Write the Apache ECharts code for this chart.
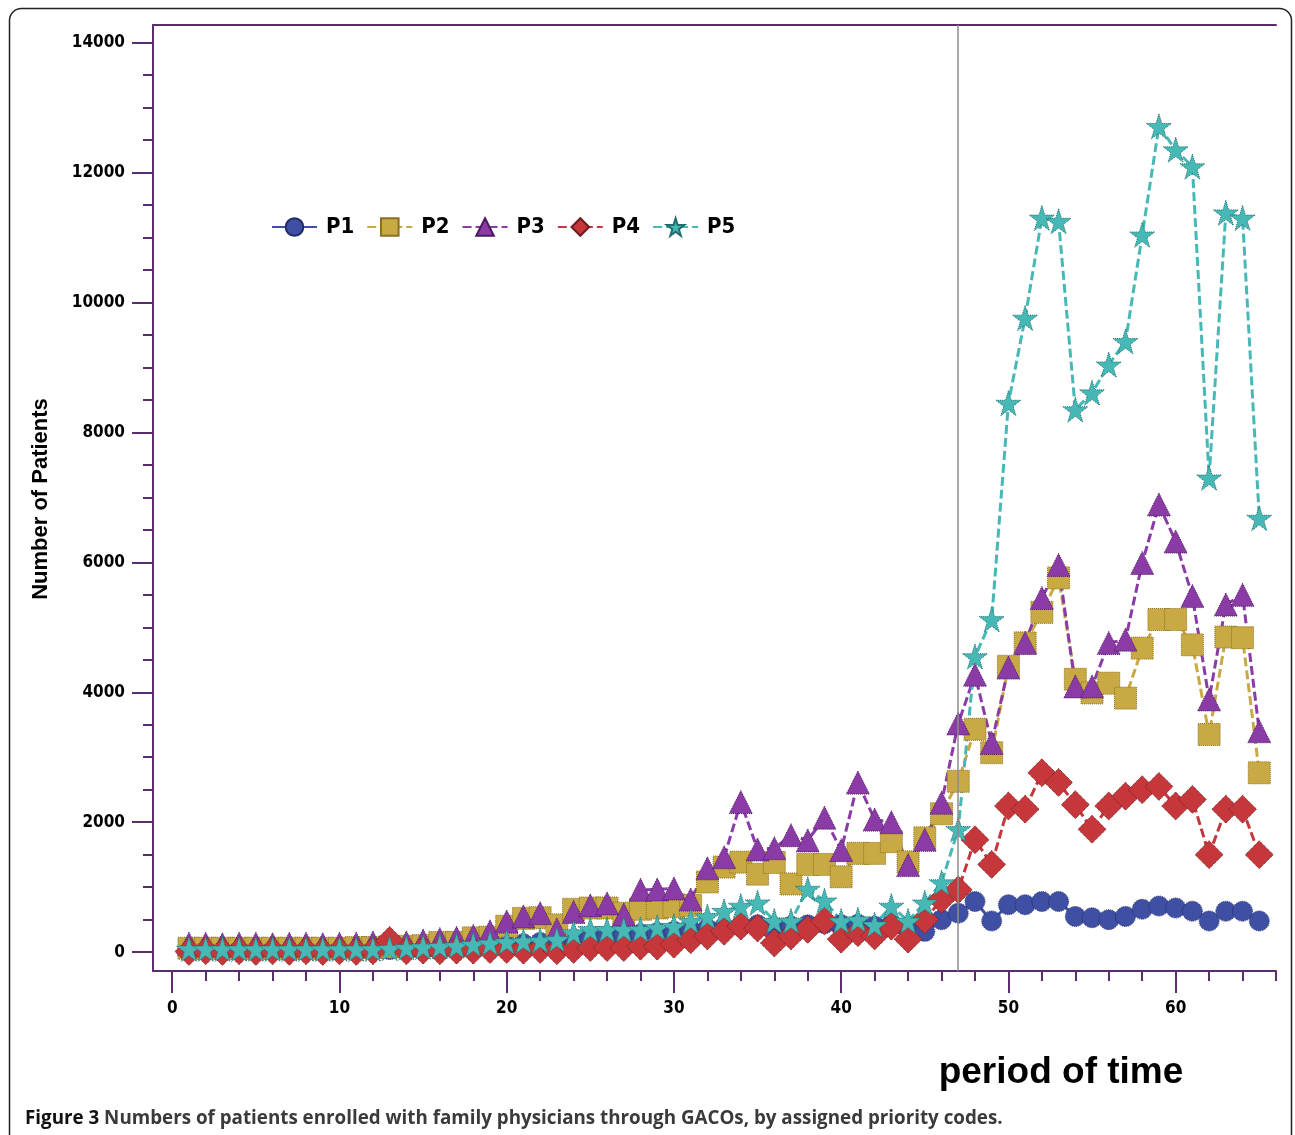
<!DOCTYPE html>
<html>
<head>
<meta charset="utf-8">
<title>Figure 3</title>
<script src="https://cdn.jsdelivr.net/npm/echarts@6/dist/echarts.min.js"></script>
<style>
  html, body { margin: 0; padding: 0; background: #fff; }
  #chart { width: 1295px; height: 1135px; }
</style>
</head>
<body>
<div id="chart"></div>
<script>
// period of time (x values)
var periods = [1, 2, 3, 4, 5, 6, 7, 8, 9, 10, 11, 12, 13, 14, 15, 16, 17, 18, 19, 20,
  21, 22, 23, 24, 25, 26, 27, 28, 29, 30, 31, 32, 33, 34, 35, 36, 37, 38, 39, 40,
  41, 42, 43, 44, 45, 46, 47, 48, 49, 50, 51, 52, 53, 54, 55, 56, 57, 58, 59, 60,
  61, 62, 63, 64, 65];

// number of patients per priority code
var p1 = [30, 30, 30, 30, 30, 30, 30, 30, 30, 30,
  40, 40, 40, 50, 50, 60, 70, 80, 90,
  110, 130, 150, 170, 200, 220, 240, 260, 280, 300,
  320, 340, 360, 380, 400, 420, 380, 400, 420, 440,
  420, 430, 400, 430, 350, 320, 500, 600,
  780, 480, 730, 730, 780, 780, 550, 530, 500, 550, 660, 710, 680, 630, 480, 630, 630, 480];
var p2 = [60, 60, 60, 60, 60, 60, 60, 60, 60, 60,
  70, 70, 80, 90, 100,
  150, 150, 220, 230,
  400, 520, 530, 420, 660, 680, 680, 600, 660, 680, 700, 720,
  1080, 1310, 1385, 1200, 1380, 1050, 1350, 1350, 1160, 1520, 1520, 1700, 1390, 1760, 2130, 2630,
  3430, 3070, 4400, 4760, 5230, 5760, 4200, 3990, 4140, 3910, 4680, 5120, 5120, 4730, 3350, 4850, 4840, 2760];
var p3 = [130, 130, 120, 130, 130, 120, 130, 130, 120, 130, 130, 150, 200, 150,
  180, 200, 220, 250, 320,
  470, 550, 600, 350, 620, 720, 750, 580, 960, 965, 980, 810, 1290,
  1460, 2310, 1580, 1600, 1800, 1720, 2070, 1570, 2610, 2040, 2000, 1340, 1730, 2300, 3520,
  4270, 3220, 4380, 4760, 5450, 5960, 4090, 4090, 4760, 4810, 5990, 6890, 6320, 5480, 3890, 5350, 5500, 3400];
var p4 = [10, 20, 10, 20, 10, 20, 10, 20, 10, 20, 10, 20,
  180,
  20, 30, 20, 30, 30, 40, 40, 30, 40,
  20, 40, 70, 70, 70, 90, 90, 120, 190,
  250, 320, 400, 370, 140, 250, 350, 480, 200, 300, 250, 400, 200, 500, 810, 960,
  1730, 1350, 2250, 2200, 2760, 2610, 2270, 1890, 2250, 2400, 2500, 2550, 2250, 2350, 1500, 2200, 2200, 1500];
var p5 = [50, 50, 50, 50, 50, 50, 50, 50, 50, 50, 50, 50,
  60, 70, 80, 90,
  100, 120, 140, 160, 170, 180,
  195, 300, 350, 350, 350, 350, 380, 400, 480,
  550, 630, 710, 760, 480, 480, 970, 790, 480, 500, 420, 710, 480, 760, 1070, 1890,
  4550, 5120, 8450, 9760, 11300, 11250, 8350, 8610, 9040, 9400, 11040, 12710, 12350, 12090, 7300, 11380, 11300, 6680];

// axis ticks
var xMajorTicks = [0, 10, 20, 30, 40, 50, 60];
var xMinorTicks = [2, 4, 6, 8, 12, 14, 16, 18, 22, 24, 26, 28, 32, 34, 36, 38,
  42, 44, 46, 48, 52, 54, 56, 58, 62, 64, 66];
var yMajorTicks = [0, 2000, 4000, 6000, 8000, 10000, 12000, 14000];
var yMinorTicks = [500, 1000, 1500, 2500, 3000, 3500, 4500, 5000, 5500, 6500, 7000, 7500,
  8500, 9000, 9500, 10500, 11000, 11500, 12500, 13000, 13500];
var cutPeriod = 47;

var axisColor = '#5B2D6E';
var tickFont = "'DejaVu Sans Condensed', 'DejaVu Sans', sans-serif";
var star = 'path://M50,0 L61,35 L98,35 L68,57 L79,91 L50,70 L21,91 L32,57 L2,35 L39,35 Z';

function pairs(vals) {
  return periods.map(function (p, i) { return [p, vals[i]]; });
}

function lineSeries(name, vals, color, border, symbol, size, dash) {
  return {
    name: name,
    type: 'line',
    data: pairs(vals),
    symbol: symbol,
    symbolSize: size,
    showAllSymbol: true,
    lineStyle: { color: color, width: 3, type: dash },
    itemStyle: { color: color, borderColor: border, borderWidth: 1, borderType: 'dotted' },
    emphasis: { disabled: true },
    animation: false
  };
}

var chart = echarts.init(document.getElementById('chart'));

var s1 = lineSeries('P1', p1, '#3F4FA3', '#1f2a66', 'circle', 20, 'solid');
var s2 = lineSeries('P2', p2, '#C9A943', '#8a7020', 'rect', 22, [9, 4]);
var s3 = lineSeries('P3', p3, '#8B3BA5', '#4a1a5c', 'triangle', 23, [9, 4]);
var s4 = lineSeries('P4', p4, '#C6373C', '#6e1a1c', 'diamond', 28, [9, 4]);
var s5 = lineSeries('P5', p5, '#46B8B6', '#1f6f6d', star, 25, [9, 4]);
s1.markLine = {
  silent: true,
  symbol: 'none',
  label: { show: false },
  lineStyle: { color: '#8c8c8c', width: 1.5, type: 'solid' },
  data: [{ xAxis: cutPeriod }],
  animation: false
};

function plain(v) { return String(v); }

var option = {
  backgroundColor: '#fff',
  animation: false,
  grid: { left: 153, right: 19, top: 25, bottom: 164 },
  legend: {
    left: 266,
    top: 211,
    itemWidth: 45,
    itemHeight: 22,
    itemGap: 12,
    textStyle: {
      fontFamily: tickFont,
      fontWeight: 'bold',
      fontSize: 22,
      color: '#000',
      padding: [0, 0, 0, 4]
    },
    data: ['P1', 'P2', 'P3', 'P4', 'P5']
  },
  xAxis: [{
    type: 'value',
    min: -1.15,
    max: 66,
    position: 'bottom',
    axisLine: { show: true, onZero: false, lineStyle: { color: axisColor, width: 2 } },
    axisTick: { show: true, inside: false, length: 22, customValues: xMajorTicks,
      lineStyle: { color: axisColor, width: 2 } },
    axisLabel: { customValues: xMajorTicks, formatter: plain, margin: 29, color: '#000',
      fontFamily: tickFont, fontWeight: 'bold', fontSize: 17 },
    splitLine: { show: false }
  }, {
    type: 'value',
    min: -1.15,
    max: 66,
    position: 'bottom',
    axisLine: { show: false, onZero: false },
    axisTick: { show: true, inside: false, length: 10, customValues: xMinorTicks,
      lineStyle: { color: axisColor, width: 2 } },
    axisLabel: { show: false },
    splitLine: { show: false }
  }, {
    type: 'value',
    min: -1.15,
    max: 66,
    position: 'top',
    axisLine: { show: true, onZero: false, lineStyle: { color: axisColor, width: 2 } },
    axisTick: { show: false },
    axisLabel: { show: false },
    splitLine: { show: false }
  }],
  yAxis: [{
    type: 'value',
    min: -290,
    max: 14270,
    position: 'left',
    axisLine: { show: true, onZero: false, lineStyle: { color: axisColor, width: 2 } },
    axisTick: { show: true, inside: false, length: 21, customValues: yMajorTicks,
      lineStyle: { color: axisColor, width: 2 } },
    axisLabel: { customValues: yMajorTicks, formatter: plain, margin: 28, color: '#000',
      fontFamily: tickFont, fontWeight: 'bold', fontSize: 17 },
    splitLine: { show: false }
  }, {
    type: 'value',
    min: -290,
    max: 14270,
    position: 'left',
    axisLine: { show: false, onZero: false },
    axisTick: { show: true, inside: false, length: 10, customValues: yMinorTicks,
      lineStyle: { color: axisColor, width: 2 } },
    axisLabel: { show: false },
    splitLine: { show: false }
  }],
  series: [s1, s2, s3, s4, s5],
  graphic: [{
    type: 'rect',
    shape: { x: 9.5, y: 8.5, width: 1282, height: 1150, r: 12 },
    style: { fill: 'none', stroke: '#222', lineWidth: 1.5 },
    silent: true
  }, {
    type: 'text',
    x: 41,
    y: 499,
    rotation: Math.PI / 2,
    style: {
      text: 'Number of Patients',
      fontFamily: 'Liberation Sans, Arial, sans-serif',
      fontWeight: 'bold',
      fontSize: 22,
      fill: '#000',
      align: 'center',
      verticalAlign: 'middle'
    }
  }, {
    type: 'text',
    x: 1061,
    y: 1073,
    style: {
      text: 'period of time',
      fontFamily: 'Liberation Sans, Arial, sans-serif',
      fontWeight: 'bold',
      fontSize: 37,
      fill: '#000',
      align: 'center',
      verticalAlign: 'middle'
    }
  }, {
    type: 'text',
    x: 25,
    y: 1119,
    style: {
      text: '{b|Figure 3} Numbers of patients enrolled with family physicians through GACOs, by assigned priority codes.',
      fontFamily: "'Open Sans', 'Noto Sans', sans-serif",
      fontSize: 18.8,
      fontWeight: 'bold',
      fill: '#3a3a3a',
      verticalAlign: 'middle',
      rich: {
        b: { fontFamily: "'Open Sans', 'Noto Sans', sans-serif", fontSize: 18.8,
          fontWeight: 'bold', fill: '#111' }
      }
    }
  }]
};

chart.setOption(option);
</script>
</body>
</html>
